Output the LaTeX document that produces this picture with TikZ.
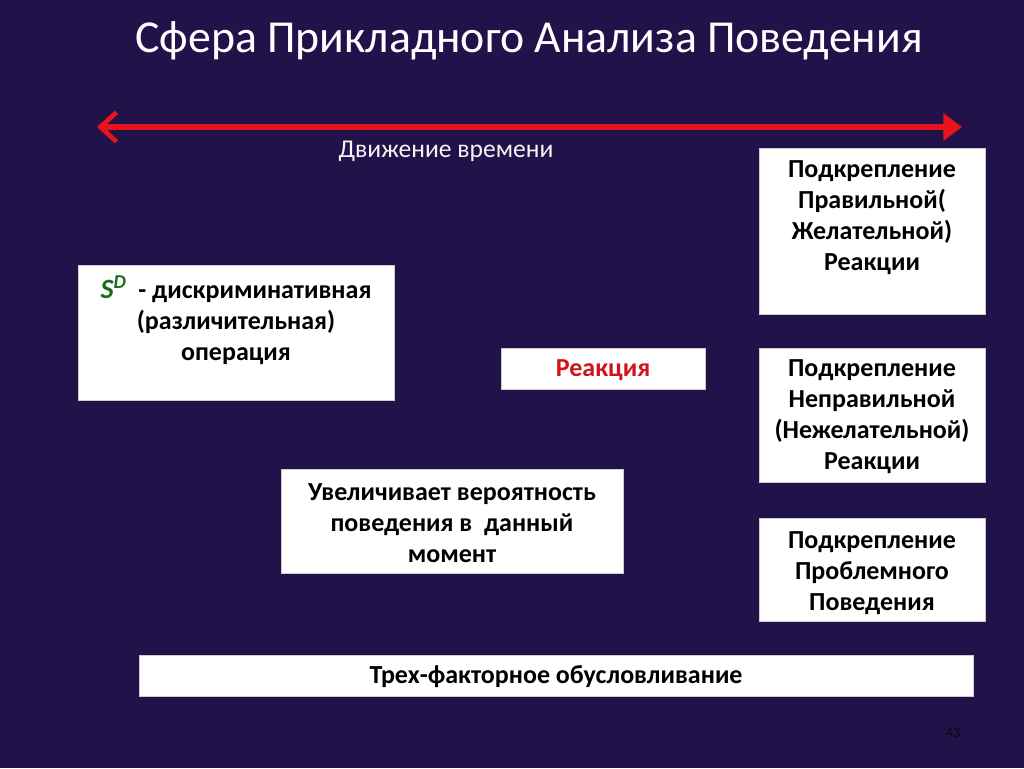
\documentclass[tikz,border=0pt]{standalone}
\usepackage{fontspec}
\setmainfont{Carlito}
\usetikzlibrary{arrows.meta}
\definecolor{bg}{HTML}{21134A}
\definecolor{arrred}{HTML}{E8141B}
\definecolor{sdgreen}{HTML}{1E6B1E}
\definecolor{reacred}{HTML}{D0141C}
\begin{document}
\begin{tikzpicture}[x=0.75pt,y=-0.75pt,
  box/.style={draw=gray!40,line width=0.6pt,fill=white,inner sep=0pt,anchor=north west},
  txt/.style={font=\fontsize{19.5}{23.25}\selectfont\bfseries,align=center,text=black,inner sep=0pt}]
\fill[bg] (0,0) rectangle (1024,768);
\useasboundingbox (0,0) rectangle (1024,768);
% title
\node[text=white,font=\fontsize{34.3}{40}\selectfont] (title) at (529,41) {Сфера Прикладного Анализа Поведения};
% time arrow
\coordinate (aL) at (97,127);
\coordinate (aR) at (962,127);
\draw[arrred,line width=3.8pt,{Straight Barb[length=12pt,width=22pt,line width=3.5pt]}-{Triangle[length=14pt,width=20pt]}] (aL) -- (aR);
\node[text=gray!8,font=\fontsize{19.2}{22}\selectfont] (time) at (446,151) {Движение времени};
% boxes
\node[box,minimum width=316*0.75pt,minimum height=135*0.75pt] (sd) at (78,265) {};
\node[txt] (sdt) at (236,320) {{\color{sdgreen}\itshape\fontsize{21}{23}\selectfont S\textsuperscript{D}}\ \ - дискриминативная\\(различительная)\\операция};
\node[box,minimum width=204*0.75pt,minimum height=41*0.75pt] (re) at (501,348) {};
\node[txt,text=reacred] (ret) at (603,370) {Реакция};
\node[box,minimum width=342*0.75pt,minimum height=104*0.75pt] (uv) at (281,469) {};
\node[txt] (uvt) at (452,523) {Увеличивает вероятность\\поведения в~ данный\\момент};
\node[box,minimum width=226*0.75pt,minimum height=166*0.75pt] (p1) at (759,148) {};
\node[txt] (p1t) at (872,218) {Подкрепление\\Правильной(\\Желательной)\\Реакции};
\node[box,minimum width=226*0.75pt,minimum height=134*0.75pt] (p2) at (759,348) {};
\node[txt] (p2t) at (872,417) {Подкрепление\\Неправильной\\(Нежелательной)\\Реакции};
\node[box,minimum width=226*0.75pt,minimum height=103*0.75pt] (p3) at (759,518) {};
\node[txt] (p3t) at (872,573) {Подкрепление\\Проблемного\\Поведения};
\node[box,minimum width=834*0.75pt,minimum height=41*0.75pt] (tf) at (139,655) {};
\node[txt] (tft) at (556,677) {Трех-факторное обусловливание};
\node[text=black!75!bg,font=\fontsize{11}{13}\selectfont] (pg) at (953,733) {43};
\end{tikzpicture}
\end{document}
